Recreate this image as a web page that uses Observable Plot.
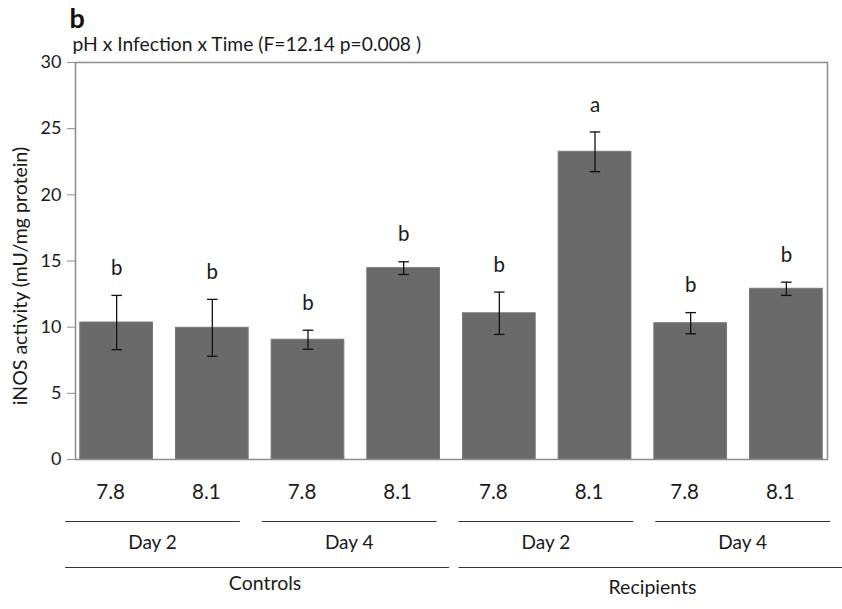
<!DOCTYPE html>
<html>
<head>
<meta charset="utf-8">
<script src="https://cdn.jsdelivr.net/npm/d3@7"></script>
<script src="https://cdn.jsdelivr.net/npm/@observablehq/plot@0.6"></script>
<style>
  html, body { margin: 0; padding: 0; background: #fff; }
  #chart svg { display: block; }
</style>
</head>
<body>
<div id="chart"></div>
<script>
// ---- data ----
const groups  = ["Controls", "Controls", "Controls", "Controls", "Recipients", "Recipients", "Recipients", "Recipients"];
const days    = ["Day 2", "Day 2", "Day 4", "Day 4", "Day 2", "Day 2", "Day 4", "Day 4"];
const phs     = ["7.8", "8.1", "7.8", "8.1", "7.8", "8.1", "7.8", "8.1"];
const means   = [10.35, 9.95, 9.05, 14.46, 11.05, 23.25, 10.3, 12.9];
const errors  = [2.05, 2.15, 0.72, 0.48, 1.6, 1.5, 0.8, 0.5];
const letters = ["b", "b", "b", "b", "b", "a", "b", "b"];
const yTicks  = [0, 5, 10, 15, 20, 25, 30];
const panelLabel = "b";
const titleText  = "pH x Infection x Time (F=12.14 p=0.008 )";
const yLabel     = "iNOS activity (mU/mg protein)";

// ---- build tables ----
const data = means.map((m, i) => ({
  i, group: groups[i], day: days[i], ph: phs[i], mean: m,
  lo: m - errors[i], hi: m + errors[i], letter: letters[i]
}));

function spans(keys) {
  const out = [];
  keys.forEach((k, i) => {
    const last = out[out.length - 1];
    if (last && last.key === k && last.end === i - 1) last.end = i;
    else out.push({key: k, start: i, end: i});
  });
  return out;
}
const daySpans = spans(days.map((d, i) => groups[i] + "|" + d)).map(s => ({...s, label: s.key.split("|")[1]}));
const groupSpans = spans(groups).map(s => ({...s, label: s.key}));

// category cells of the label table under the axis
const cellLeft = i => i * 1.028 - 0.538;
const dayX1 = s => cellLeft(s.start);
const dayX2 = s => cellLeft(s.end + 1) - 0.23;
const grpX1 = s => cellLeft(s.start);
const grpX2 = s => cellLeft(s.end + 1) - 0.1;
const grpMid = s => (grpX1(s) + grpX2(s)) / 2;

const FONT = "Lato, 'Open Sans', sans-serif";
const INK = "#1a1a1a";
const barHalf = 0.38;
const capHalf = 0.055;

const plot = Plot.plot({
  width: 842,
  height: 609,
  marginLeft: 75,
  marginRight: 15,
  marginTop: 62,
  marginBottom: 150,
  style: {fontFamily: FONT, fontSize: "18px", color: INK, background: "#fff", overflow: "visible"},
  x: {type: "linear", domain: [-0.43, 7.43], axis: null},
  y: {domain: [0, 30], axis: null},
  marks: [
    Plot.rectY(data, {x1: d => d.i - barHalf, x2: d => d.i + barHalf, y1: 0, y2: "mean", fill: "#6a6a6a", stroke: "#787878", strokeWidth: 1}),
    Plot.frame({stroke: "#8c8c8c", strokeWidth: 1.5}),
    Plot.axisY({ticks: yTicks, tickSize: 8, tickPadding: 6, tickFormat: d => String(d), stroke: "#8c8c8c", fontSize: 18, label: null}),
    Plot.text([yLabel], {frameAnchor: "left", rotate: -90, textAnchor: "middle", lineAnchor: "middle", dx: -55, dy: 15, fontSize: 19.5, fill: INK}),
    // error bars
    Plot.ruleX(data, {x: "i", y1: "lo", y2: "hi", stroke: "#111", strokeWidth: 1.3}),
    Plot.link(data, {x1: d => d.i - capHalf, x2: d => d.i + capHalf, y1: "hi", y2: "hi", stroke: "#111", strokeWidth: 1.3}),
    Plot.link(data, {x1: d => d.i - capHalf, x2: d => d.i + capHalf, y1: "lo", y2: "lo", stroke: "#111", strokeWidth: 1.3}),
    // significance letters
    Plot.text(data, {x: "i", y: "hi", text: "letter", dy: -27, fontSize: 20.5, fill: INK}),
    // pH labels
    Plot.text(data, {x: "i", y: 0, text: "ph", dy: 33, dx: -6, fontSize: 20.5, fill: INK}),
    // day lines + labels
    Plot.link(daySpans, {x1: dayX1, x2: dayX2, y1: 0, y2: 0, dy: 62, stroke: "#333", strokeWidth: 1.2}),
    Plot.text(daySpans, {x: s => (dayX1(s) + dayX2(s)) / 2, y: 0, text: "label", dy: 83, fontSize: 19, fill: INK}),
    // group lines + labels
    Plot.link(groupSpans, {x1: grpX1, x2: grpX2, y1: 0, y2: 0, dy: 108, stroke: "#333", strokeWidth: 1.2}),
    Plot.text(groupSpans.slice(0, 1), {x: grpMid, y: 0, text: "label", dy: 124, dx: 8, fontSize: 19.5, fill: INK}),
    Plot.text(groupSpans.slice(1), {x: grpMid, y: 0, text: "label", dy: 128, dx: 2, fontSize: 19.5, fill: INK}),
    // titles
    Plot.text([panelLabel], {frameAnchor: "top-left", lineAnchor: "middle", textAnchor: "start", dx: -6, dy: -43, fontSize: 27, fontWeight: "bold", fill: "#111"}),
    Plot.text([titleText], {frameAnchor: "top-left", lineAnchor: "middle", textAnchor: "start", dx: -3, dy: -18, fontSize: 19.3, fill: INK})
  ]
});
document.getElementById("chart").appendChild(plot);
</script>
</body>
</html>
